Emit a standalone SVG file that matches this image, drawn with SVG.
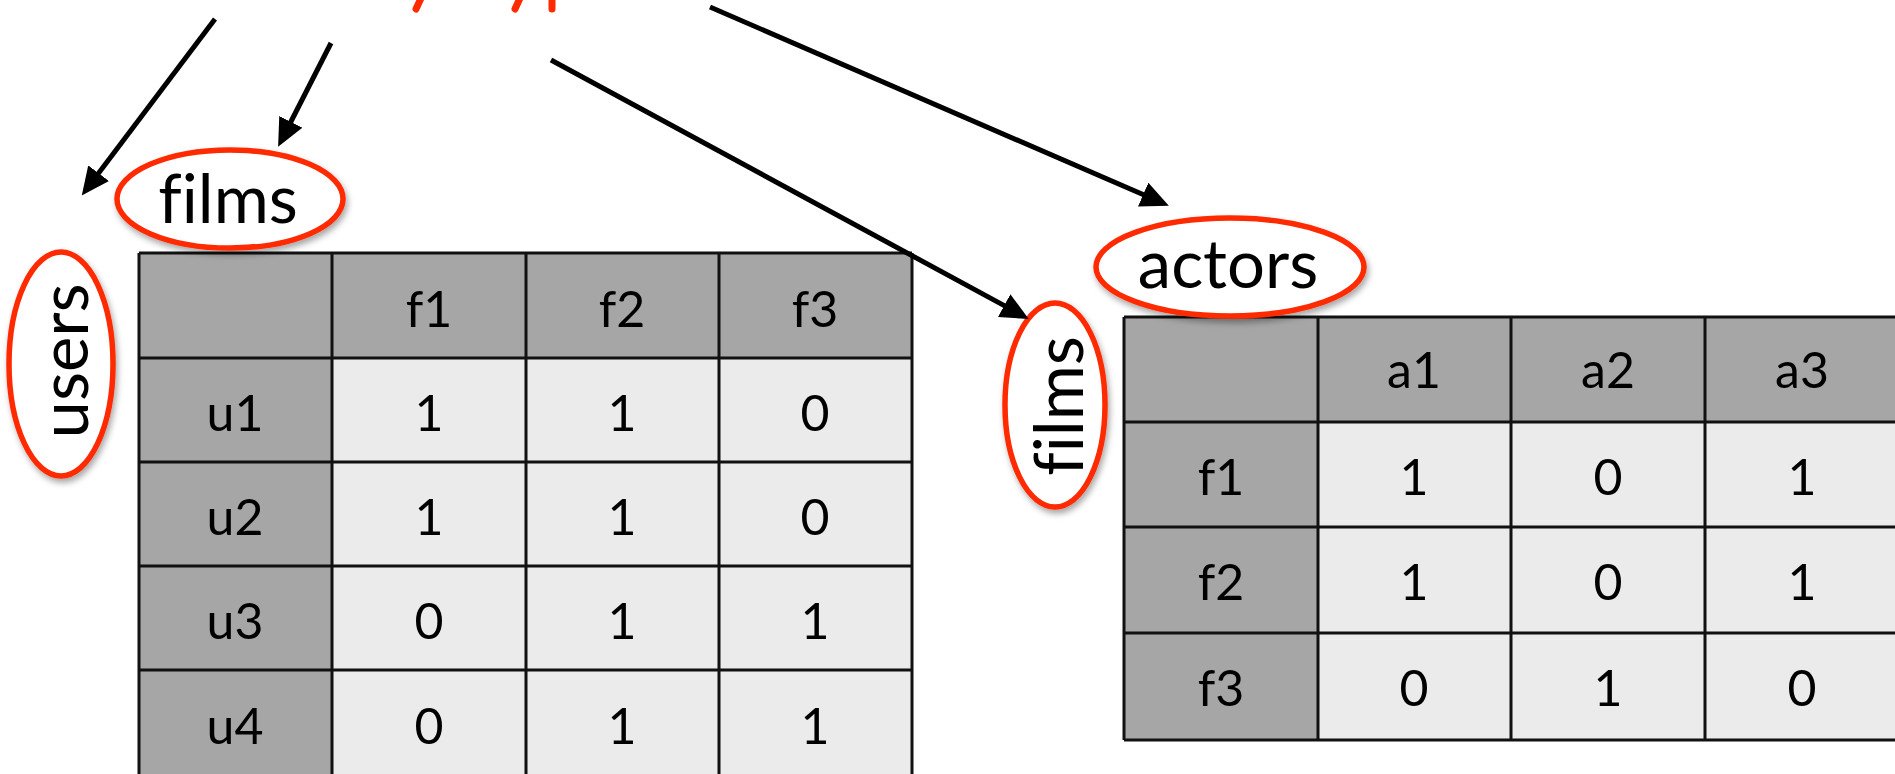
<svg xmlns="http://www.w3.org/2000/svg" width="1895" height="774" viewBox="0 0 1895 774">
<style>
.hd{fill:#a6a6a6}
.dc{fill:#ebebeb}
.grid{stroke:#111;stroke-width:3;fill:none}
.ct{font-family:Lato,"Liberation Sans",sans-serif;font-size:50px;fill:#000;text-anchor:middle}
.lb{font-family:Lato,"Liberation Sans",sans-serif;font-size:67px;fill:#000;text-anchor:middle;font-variant-ligatures:none;font-feature-settings:"liga" 0}
.ov{fill:#fff;stroke:#ff2a00;stroke-width:5.5;filter:url(#sh)}
.conn{stroke:#000;stroke-width:5;fill:none;marker-end:url(#ah)}
.frag{stroke:#ff2a00;stroke-width:7;stroke-linecap:round}
</style>
<defs>
<marker id="ah" markerUnits="userSpaceOnUse" markerWidth="28" markerHeight="26" viewBox="0 0 28 26" refX="8" refY="13" orient="auto">
<path d="M0,0 L28,13 L0,26 z" fill="#000"/>
</marker>
<filter id="sh" x="-20%" y="-20%" width="140%" height="150%">
<feDropShadow dx="2" dy="4" stdDeviation="3" flood-color="#000" flood-opacity="0.35"/>
</filter>
</defs>
<rect width="1895" height="774" fill="#fff"/>

<g id="top-fragments">
<line class="frag" x1="422" y1="-4" x2="416" y2="9"/>
<line class="frag" x1="521" y1="-4" x2="515" y2="9"/>
<line class="frag" x1="552" y1="-4" x2="552" y2="9"/>
</g>

<g id="table-users-films">
<rect class="hd" x="139" y="253" width="773" height="105"/>
<rect class="hd" x="139" y="358" width="193" height="420"/>
<rect class="dc" x="332" y="358" width="580" height="420"/>
<path class="grid" d="M139,253 H912 M139,358 H912 M139,462 H912 M139,566 H912 M139,670 H912 M139,253 V780 M332,253 V780 M526,253 V780 M719,253 V780 M912,253 V780"/>
<text class="ct" x="429" y="327">f1</text>
<text class="ct" x="622" y="327">f2</text>
<text class="ct" x="815" y="327">f3</text>
<text class="ct" x="235" y="431">u1</text>
<text class="ct" x="429" y="431">1</text>
<text class="ct" x="622" y="431">1</text>
<text class="ct" x="815" y="431">0</text>
<text class="ct" x="235" y="535">u2</text>
<text class="ct" x="429" y="535">1</text>
<text class="ct" x="622" y="535">1</text>
<text class="ct" x="815" y="535">0</text>
<text class="ct" x="235" y="639">u3</text>
<text class="ct" x="429" y="639">0</text>
<text class="ct" x="622" y="639">1</text>
<text class="ct" x="815" y="639">1</text>
<text class="ct" x="235" y="744">u4</text>
<text class="ct" x="429" y="744">0</text>
<text class="ct" x="622" y="744">1</text>
<text class="ct" x="815" y="744">1</text>
</g>

<g id="table-films-actors">
<rect class="hd" x="1124" y="317" width="780" height="105"/>
<rect class="hd" x="1124" y="422" width="194" height="318"/>
<rect class="dc" x="1318" y="422" width="586" height="318"/>
<path class="grid" d="M1124,317 H1904 M1124,422 H1904 M1124,527 H1904 M1124,633 H1904 M1124,740 H1904 M1124,317 V740 M1318,317 V740 M1511,317 V740 M1705,317 V740"/>
<text class="ct" x="1414" y="388">a1</text>
<text class="ct" x="1608" y="388">a2</text>
<text class="ct" x="1802" y="388">a3</text>
<text class="ct" x="1221" y="495">f1</text>
<text class="ct" x="1414" y="495">1</text>
<text class="ct" x="1608" y="495">0</text>
<text class="ct" x="1802" y="495">1</text>
<text class="ct" x="1221" y="600">f2</text>
<text class="ct" x="1414" y="600">1</text>
<text class="ct" x="1608" y="600">0</text>
<text class="ct" x="1802" y="600">1</text>
<text class="ct" x="1221" y="706">f3</text>
<text class="ct" x="1414" y="706">0</text>
<text class="ct" x="1608" y="706">1</text>
<text class="ct" x="1802" y="706">0</text>
</g>

<g id="label-films-cols">
<ellipse class="ov" cx="230" cy="199" rx="113" ry="49"/>
<text class="lb" x="228" y="223">films</text>
</g>
<g id="label-users">
<ellipse class="ov" cx="61" cy="364" rx="52" ry="112"/>
<text class="lb" transform="translate(88,361) rotate(-90)">users</text>
</g>
<g id="label-actors">
<ellipse class="ov" cx="1230" cy="267" rx="134" ry="49"/>
<text class="lb" x="1228" y="288">actors</text>
</g>
<g id="label-films-rows">
<ellipse class="ov" cx="1055" cy="405" rx="50" ry="102"/>
<text class="lb" transform="translate(1083,406) rotate(-90)">films</text>
</g>

<g id="connectors">
<line class="conn" x1="215" y1="19" x2="93.8" y2="179.6"/>
<line class="conn" x1="331" y1="43" x2="287.2" y2="129"/>
<line class="conn" x1="551" y1="60" x2="1011.2" y2="309.4"/>
<line class="conn" x1="710" y1="7" x2="1150.5" y2="197.8"/>
</g>
</svg>
